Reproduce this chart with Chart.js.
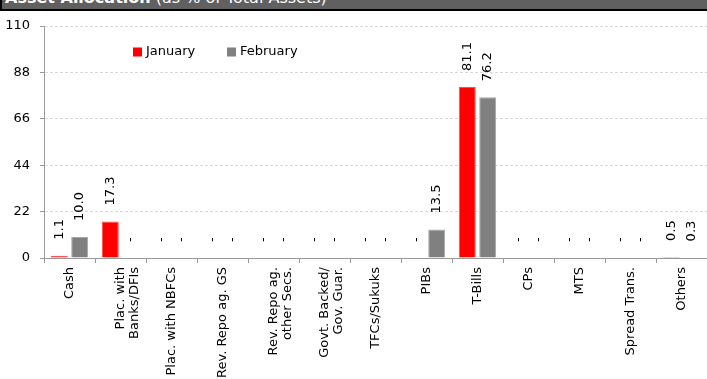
<!DOCTYPE html>
<html>
<head>
<meta charset="utf-8">
<script src="https://cdn.jsdelivr.net/npm/chart.js@4.4.1/dist/chart.umd.min.js"></script>
<style>
  html, body { margin: 0; padding: 0; background: #fff; overflow: hidden; width: 707px; height: 379px; }
  #header { position: absolute; left: 0; top: 0; width: 705px; height: 9px; background: #606060;
            border-left: 2px solid #000; border-bottom: 2px solid #000; overflow: hidden; z-index: 2; }
  #header span { position: absolute; left: 3px; top: -10px; line-height: 16px; color: #fff;
                 font-size: 16px; font-family: "DejaVu Sans", sans-serif; white-space: nowrap; }
  #wrap { position: absolute; left: 0; top: 0; width: 707px; height: 382px; }
</style>
</head>
<body>
<div id="header"><span><b>Asset Allocation</b> (as % of Total Assets)</span></div>
<div id="wrap"><canvas id="chartAssetAllocation"></canvas></div>
<script>
/* Datos */
const categories = [
  'Cash', ['Plac. with', 'Banks/DFIs'], 'Plac. with NBFCs', 'Rev. Repo ag. GS',
  ['Rev. Repo ag.', 'other Secs.'], ['Govt. Backed/', 'Gov. Guar.'], 'TFCs/Sukuks',
  'PIBs', 'T-Bills', 'CPs', 'MTS', 'Spread Trans.', 'Others'
];
const seriesNames = ['January', 'February'];
const january = [1.1, 17.3, null, null, null, null, null, null, 81.1, null, null, null, 0.5];
const february = [10.0, null, null, null, null, null, null, 13.5, 76.2, null, null, null, 0.3];
const yMin = 0;
const yMax = 110;
const yStep = 22;

const fontFamily = '"DejaVu Sans", sans-serif';

/* Etiquetas de valor (rotadas) */
const barLabels = {
  id: 'barLabels',
  afterDatasetsDraw(chart) {
    const ctx = chart.ctx;
    const yScale = chart.scales.y;
    ctx.save();
    ctx.font = '13px ' + fontFamily;
    ctx.fillStyle = '#000';
    ctx.textAlign = 'left';
    ctx.textBaseline = 'middle';
    chart.data.datasets.forEach((ds, i) => {
      chart.getDatasetMeta(i).data.forEach((bar, j) => {
        const v = ds.data[j];
        const top = v == null ? yScale.getPixelForValue(0) : bar.y;
        ctx.save();
        ctx.translate(bar.x, top - 16);
        ctx.rotate(-Math.PI / 2);
        ctx.fillText(v == null ? '-' : v.toFixed(1), 0, 0);
        ctx.restore();
      });
    });
    ctx.restore();
  }
};

/* Leyenda dentro del grafico */
const legendInside = {
  id: 'legendInside',
  afterDraw(chart) {
    const { ctx, chartArea } = chart;
    let x = chartArea.left + 89;
    const y = chartArea.top + 26;
    ctx.save();
    ctx.font = '13px ' + fontFamily;
    ctx.textBaseline = 'middle';
    ctx.textAlign = 'left';
    chart.data.datasets.forEach((ds) => {
      ctx.fillStyle = ds.backgroundColor;
      ctx.fillRect(x, y - 4.5, 9, 9);
      ctx.fillStyle = '#000';
      ctx.fillText(ds.label, x + 13, y);
      x += 94;
    });
    ctx.restore();
  }
};

const ctx = document.getElementById('chartAssetAllocation').getContext('2d');
const chartAssetAllocation = new Chart(ctx, {
  type: 'bar',
  data: {
    labels: categories,
    datasets: [
      {
        label: seriesNames[0],
        data: january,
        backgroundColor: '#ff0000',
        borderColor: '#ff4d4d',
        borderWidth: 1,
        categoryPercentage: 0.8,
        barPercentage: 0.83,
      },
      {
        label: seriesNames[1],
        data: february,
        backgroundColor: '#808080',
        borderColor: '#a6a6a6',
        borderWidth: 1,
        categoryPercentage: 0.8,
        barPercentage: 0.83,
      },
    ],
  },
  options: {
    responsive: true,
    maintainAspectRatio: false,
    animation: false,
    layout: { padding: { top: 26, left: 0, right: 0, bottom: 0 } },
    plugins: {
      legend: { display: false },
      tooltip: { enabled: false },
    },
    scales: {
      x: {
        grid: { offset: true, drawOnChartArea: false, drawTicks: true, tickLength: 5, color: '#999' },
        border: { color: '#999' },
        ticks: {
          autoSkip: false,
          minRotation: 90,
          maxRotation: 90,
          padding: 4,
          color: '#000',
          font: { family: fontFamily, size: 13, lineHeight: 1.1 },
        },
      },
      y: {
        min: yMin,
        max: yMax,
        afterFit(scale) { scale.width = 44; },
        grid: { color: '#d9d9d9', tickColor: '#999', tickLength: 4 },
        border: { color: '#999', dash: [3, 2] },
        ticks: {
          stepSize: yStep,
          padding: 10,
          color: '#000',
          font: { family: fontFamily, size: 13 },
        },
      },
    },
  },
  plugins: [barLabels, legendInside],
});
</script>
</body>
</html>
